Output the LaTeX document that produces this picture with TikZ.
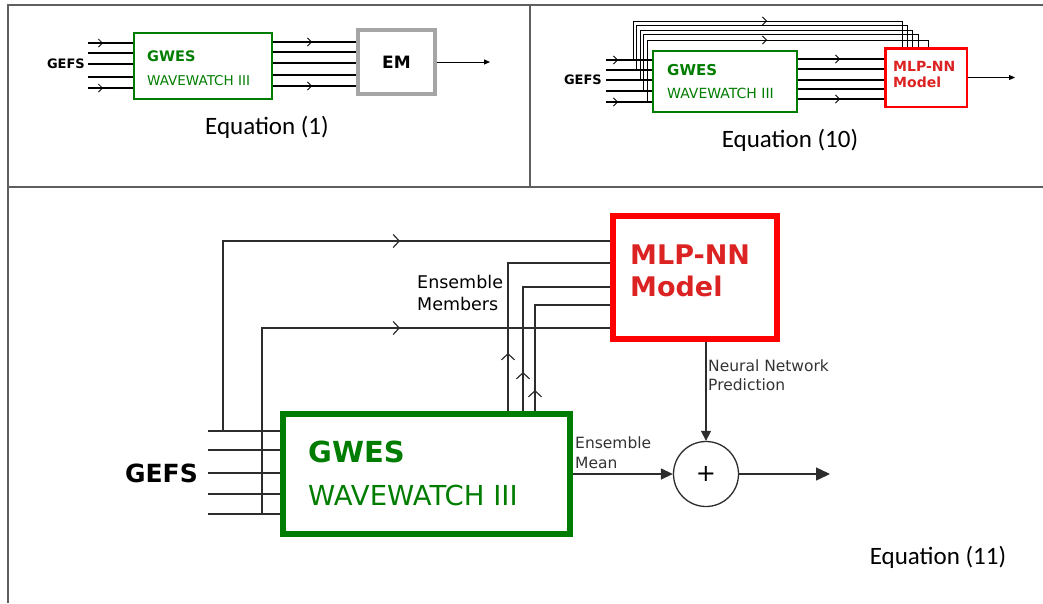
\documentclass[tikz,border=0pt]{standalone}
\usepackage{fontspec}
\setmainfont{Carlito}
\setsansfont{DejaVu Sans}
\usetikzlibrary{arrows.meta,decorations.markings,positioning}
\definecolor{gwesgreen}{RGB}{0,125,0}
\definecolor{mlpred}{RGB}{255,0,0}
\definecolor{mlptext}{RGB}{220,35,35}
\definecolor{emgray}{RGB}{165,165,165}
\definecolor{panelgray}{RGB}{95,95,95}
\definecolor{wiregray}{RGB}{45,45,45}
\newcommand{\fsz}[2]{\fontsize{#1}{#2}\selectfont}
\begin{document}
\begin{tikzpicture}[
  x=1pt, y=-1pt,
  panelline/.style={draw=panelgray, line width=1.5pt},
  wire/.style={draw=black, line width=2pt},
  thinwire/.style={draw=black, line width=0.9pt},
  bigwire/.style={draw=wiregray, line width=1.4pt},
  tag/.style={inner sep=0pt, anchor=west, align=left},
  eq/.style={inner sep=0pt, font=\fsz{25}{30}},
  barb/.style={postaction={decorate}, decoration={markings, mark=at position #1 with {\arrow{Straight Barb[length=4pt,width=8pt,line width=0.8pt]}}}},
  bigbarb/.style={postaction={decorate}, decoration={markings, mark=at position #1 with {\arrow{Straight Barb[length=6pt,width=13pt,line width=1.2pt]}}}}
]
\useasboundingbox (0,0) rectangle (1043,603);
\draw[panelline] (8,603) -- (8,5) -- (1043,5);
\draw[panelline] (8,187) -- (1043,187);
\draw[panelline] (530,5) -- (530,187);

\node[draw=gwesgreen, line width=2pt, minimum width=138pt, minimum height=66pt, inner sep=0pt] (gwesA) at (203,66) {};
\node[tag, text=gwesgreen, font=\sffamily\bfseries\fsz{14.5}{17}] (gwesAtitle) at (147,56) {GWES};
\node[tag, text=gwesgreen, font=\sffamily\fsz{13.5}{16}] (gwesAsub) at (147,81) {WAVEWATCH III};
\node[draw=emgray, line width=4pt, minimum width=77pt, minimum height=64pt, inner sep=0pt, font=\sffamily\bfseries\fsz{17}{20}] (emA) at (396.5,62) {EM};
\node[inner sep=0pt, anchor=east, font=\sffamily\bfseries\fsz{13}{15}] (gefsA) at (85,64) {GEFS};
\foreach \y [count=\i] in {43,53,64,77,88}
  \coordinate (inA\i) at (88,\y);
\foreach \i in {1,5}
  \draw[wire, barb=15pt] (inA\i) -- (inA\i -| gwesA.west);
\foreach \i in {2,3,4}
  \draw[wire] (inA\i) -- (inA\i -| gwesA.west);
\foreach \y [count=\i] in {42,52,63,75,86}
  \coordinate (outA\i) at (gwesA.east |- 0,\y);
\foreach \i in {1,5}
  \draw[wire, barb=39pt] (outA\i) -- (outA\i -| emA.west);
\foreach \i in {2,3,4}
  \draw[wire] (outA\i) -- (outA\i -| emA.west);
\coordinate (endA) at (490,62);
\draw[thinwire, -{Triangle[length=6pt,width=5pt]}] (emA.east) -- (endA);
\node[eq] (eqA) at (267,127) {Equation (1)};

\node[draw=gwesgreen, line width=2pt, minimum width=144pt, minimum height=61pt, inner sep=0pt] (gwesB) at (725,81.5) {};
\node[tag, text=gwesgreen, font=\sffamily\bfseries\fsz{15}{18}] (gwesBtitle) at (667,70.5) {GWES};
\node[tag, text=gwesgreen, font=\sffamily\fsz{14}{17}] (gwesBsub) at (667,93) {WAVEWATCH III};
\node[draw=mlpred, line width=2.5pt, minimum width=81.5pt, minimum height=58.5pt, inner sep=0pt] (mlpB) at (926,77.5) {};
\node[tag, text=mlptext, font=\sffamily\bfseries\fsz{14}{16}] (mlpBtext) at (893,74) {MLP-NN\\Model};
\node[inner sep=0pt, anchor=east, font=\sffamily\bfseries\fsz{13}{15}] (gefsB) at (602,80) {GEFS};
\foreach \y [count=\i] in {60,70,80,91,102}
  \coordinate (inB\i) at (606,\y);
\foreach \i in {1,5}
  \draw[wire, barb=12pt] (inB\i) -- (inB\i -| gwesB.west);
\foreach \i in {2,3,4}
  \draw[wire] (inB\i) -- (inB\i -| gwesB.west);
\foreach \y [count=\i] in {59,69,80,89,99}
  \coordinate (outB\i) at (gwesB.east |- 0,\y);
\foreach \i in {1,5}
  \draw[wire, barb=42pt] (outB\i) -- (outB\i -| mlpB.west);
\foreach \i in {2,3,4}
  \draw[wire] (outB\i) -- (outB\i -| mlpB.west);
\draw[thinwire, barb=173pt] (inB1 -| 633,0) -- (633,21) -- (902,21) -- (mlpB.north -| 902,0);
\foreach \i/\xv/\yt/\xr in {2/636.5/25.5/907, 3/640/30/912, 4/643.5/34.5/918}
  \draw[thinwire] (inB\i -| \xv,0) -- (\xv,\yt) -- (\xr,\yt) -- (mlpB.north -| \xr,0);
\draw[thinwire, barb=182pt] (inB5 -| 647,0) -- (647,40) -- (928,40) -- (mlpB.north -| 928,0);
\coordinate (endB) at (1015,77.5);
\draw[thinwire, -{Triangle[length=6pt,width=5pt]}] (mlpB.east) -- (endB);
\node[eq] (eqB) at (790,140) {Equation (10)};

\node[draw=gwesgreen, line width=6pt, minimum width=287pt, minimum height=120pt, inner sep=0pt] (gwesC) at (426.5,474) {};
\node[tag, text=gwesgreen, font=\sffamily\bfseries\fsz{29}{34}] (gwesCtitle) at (308,452) {GWES};
\node[tag, text=gwesgreen, font=\sffamily\fsz{27.5}{32}] (gwesCsub) at (308,495) {WAVEWATCH III};
\node[draw=mlpred, line width=6pt, minimum width=164pt, minimum height=123pt, inner sep=0pt] (mlpC) at (695,277.5) {};
\node[tag, text=mlptext, font=\sffamily\bfseries\fsz{27}{32}] (mlpCtext) at (630,271) {MLP-NN\\Model};
\node[circle, draw=wiregray, line width=1.3pt, minimum size=65pt, inner sep=0pt, font=\sffamily\fsz{24}{24}] (sumC) at (706,474) {+};
\node[inner sep=0pt, anchor=east, font=\sffamily\bfseries\fsz{25}{30}] (gefsC) at (198,473) {GEFS};
\node[tag, font=\sffamily\fsz{17.5}{22}] (membLbl) at (417,293) {Ensemble\\Members};
\node[tag, text=black!80, font=\sffamily\fsz{15.5}{19}] (nnLbl) at (708,375.5) {Neural Network\\Prediction};
\node[tag, text=black!80, font=\sffamily\fsz{15.5}{20}] (meanLbl) at (575,453) {Ensemble\\Mean};
\foreach \y [count=\i] in {431,450,473,494,514}
  \coordinate (inC\i) at (208,\y);
\foreach \i in {1,...,5}
  \draw[bigwire] (inC\i) -- (inC\i -| gwesC.west);
\draw[bigwire, bigbarb=367pt] (inC1 -| 223,0) |- (mlpC.west |- 0,241);
\draw[bigwire, bigbarb=324pt] (inC5 -| 262,0) |- (mlpC.west |- 0,328);
\foreach \xv/\yt/\bp in {508/263/58pt, 523/287/39pt, 535/305/21pt}
  \draw[bigwire, bigbarb=\bp] (gwesC.north -| \xv,0) |- (mlpC.west |- 0,\yt);
\draw[bigwire, -{Triangle[length=10pt,width=10pt]}] (sumC.north |- mlpC.south) -- (sumC.north);
\draw[bigwire, -{Triangle[length=12pt,width=11pt]}] (gwesC.east) -- (sumC.west);
\coordinate (outC) at (830,474);
\draw[bigwire, -{Triangle[length=14pt,width=13pt]}] (sumC.east) -- (outC);
\node[eq] (eqC) at (938,557) {Equation (11)};
\end{tikzpicture}
\end{document}
